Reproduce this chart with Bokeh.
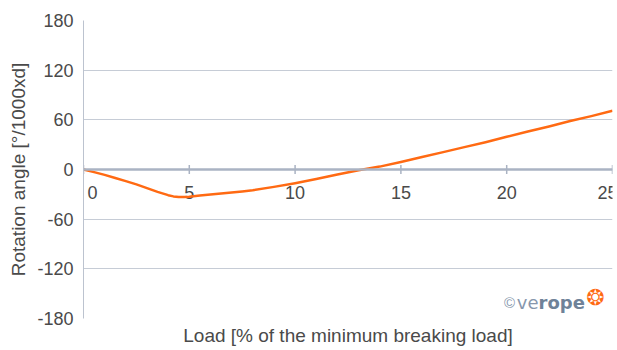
import math
from bokeh.plotting import figure
from bokeh.models import Range1d, FixedTicker, Span, Title, Label, ColumnDataSource
from bokeh.core.properties import value
from bokeh.embed import file_html
from bokeh.resources import INLINE

# Data
load_pct = [0, 0.5, 1, 1.5, 2, 2.5, 3, 3.5, 4, 4.25, 4.5, 4.75, 5, 5.5, 6, 6.5, 7, 7.5, 8, 9, 10,
            11, 12, 13, 14, 15, 16, 17, 18, 19, 20, 21, 22, 23, 24, 25]
rotation = [0, -3.2, -6.5, -10.2, -14, -18, -22.5, -27, -31, -32.5, -33.3, -33.3, -32.8, -31.4,
            -30.2, -29, -27.8, -26.5, -25, -21, -16.5, -11.5, -6, -1, 3.5, 9, 15, 21, 27, 33,
            39.5, 46, 52, 58.5, 64.5, 71]

x_ticks = [0, 5, 10, 15, 20, 25]
x_tick_labels = ["0", "5", "10", "15", "20", "25"]
y_ticks = [-180, -120, -60, 0, 60, 120, 180]
y_tick_labels = ["-180", "-120", "-60", "0", "60", "120", "180"]

FONT = "Liberation Sans"
TXT = "#4a4a4a"
GRID = "#c6ccd6"
AXIS0 = "#aab3c3"
ORANGE = "#ff6a13"

p = figure(width=617, height=350, output_backend="svg", toolbar_location=None,
           x_range=Range1d(0, 25), y_range=Range1d(-180, 180),
           x_axis_location=None,
           min_border_left=83, min_border_right=5, min_border_top=20, min_border_bottom=0)
p.outline_line_color = None
p.background_fill_color = "white"
p.xgrid.visible = False
p.ygrid.ticker = FixedTicker(ticks=y_ticks)
p.ygrid.grid_line_color = GRID
p.ygrid.grid_line_width = 1

yax = p.yaxis[0]
yax.ticker = FixedTicker(ticks=y_ticks)
yax.major_label_overrides = {t: s for t, s in zip(y_ticks, y_tick_labels)}
yax.major_tick_out = 0
yax.major_tick_in = 0
yax.minor_tick_out = 0
yax.minor_tick_in = 0
yax.axis_line_color = "#bcc3cf"
yax.axis_line_width = 1
yax.major_label_standoff = 10
yax.major_label_text_font = FONT
yax.major_label_text_font_size = "18px"
yax.major_label_text_color = TXT
yax.axis_label = "Rotation angle [°/1000xd]"
yax.axis_label_text_font = FONT
yax.axis_label_text_font_size = "19px"
yax.axis_label_text_font_style = "normal"
yax.axis_label_text_color = TXT
yax.axis_label_standoff = 5

# zero axis line with ticks
p.add_layout(Span(location=0, dimension="width", line_color=AXIS0, line_width=2.5))
tick_src = ColumnDataSource(dict(x=x_ticks, y=[0] * len(x_ticks), t=x_tick_labels))
p.scatter(x="x", y="y", source=tick_src, marker="dash", angle=math.pi / 2, size=9,
          line_color=AXIS0, line_width=1.5)

mid = ColumnDataSource(dict(x=x_ticks[1:-1], y=[0] * (len(x_ticks) - 2), t=x_tick_labels[1:-1]))
first = ColumnDataSource(dict(x=x_ticks[:1], y=[0], t=x_tick_labels[:1]))
last = ColumnDataSource(dict(x=x_ticks[-1:], y=[0], t=x_tick_labels[-1:]))
common = dict(text="t", text_font=value(FONT), text_font_size="18px", text_color=TXT,
              text_align="center", text_baseline="alphabetic")
p.text(x="x", y="y", source=mid, y_offset=23, **common)
p.text(x="x", y="y", source=first, y_offset=23, x_offset=9, **common)
p.text(x="x", y="y", source=last, y_offset=23, x_offset=-5, **common)

# curve
p.line(load_pct, rotation, line_color=ORANGE, line_width=2.5, line_join="round")

# x axis title
p.add_layout(Title(text="Load [% of the minimum breaking load]", align="center",
                   text_font=FONT, text_font_size="19px", text_font_style="normal",
                   text_color=TXT, standoff=9), "below")

# logo
LOGO_Y = -160.8
p.add_layout(Label(x=25, y=LOGO_Y, x_offset=-103, text="©", text_align="center",
                   text_baseline="alphabetic", text_font=FONT, text_font_size="15px",
                   text_color="#8797ad"))
p.add_layout(Label(x=25, y=LOGO_Y, x_offset=-74, text="ve", text_align="right",
                   text_baseline="alphabetic", text_font="DejaVu Sans", text_font_size="18px",
                   text_color="#8797ad"))
p.add_layout(Label(x=25, y=LOGO_Y, x_offset=-74, text="rope", text_align="left",
                   text_baseline="alphabetic", text_font="DejaVu Sans", text_font_size="18px",
                   text_font_style="bold", text_color="#6f8298"))
p.add_layout(Label(x=25, y=-154.8, x_offset=-17, text="❂", text_align="center",
                   text_baseline="middle", text_font="DejaVu Sans", text_font_size="22px",
                   text_color=ORANGE))

open("out.html", "w").write(file_html(p, INLINE))
